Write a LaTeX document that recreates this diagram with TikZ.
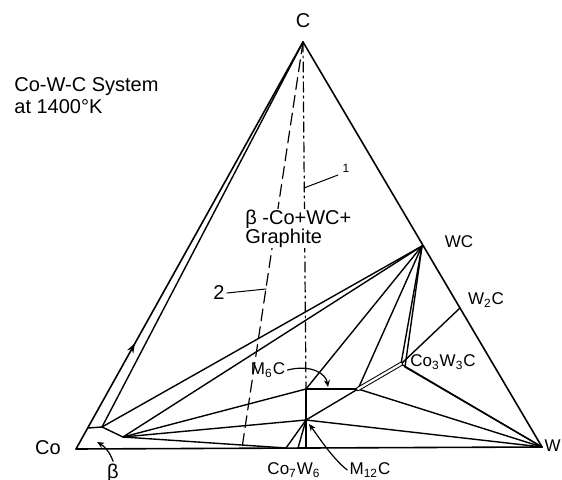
\documentclass[tikz,border=0pt]{standalone}
\usepackage{fontspec}
\setmainfont{Liberation Sans}
\usetikzlibrary{arrows.meta,decorations.markings}

\begin{document}
\begin{tikzpicture}[x=0.5pt, y=-0.5pt, >=Stealth, line join=round, line cap=round,
  edge/.style={line width=0.8pt},
  tie/.style={line width=0.7pt},
  twin/.style={line width=0.5pt, double, double distance=1.1pt},
  isopleth/.style={line width=0.6pt, dash pattern=on 6pt off 3pt},
  isoplethb/.style={line width=0.6pt, dash pattern=on 5pt off 2pt on 1pt off 2pt},
  lbl/.style={font=\fontsize{10}{12}\selectfont, inner sep=1pt},
  phase/.style={font=\fontsize{8.5}{10}\selectfont, inner sep=1pt},
  callout/.style={line width=0.6pt, -{Stealth[length=3.5pt, width=3pt]}}]
  \useasboundingbox (0,0) rectangle (562,480);

  % Corners of the triangle
  \coordinate (Co) at (76,449);
  \coordinate (W) at (542,447);
  \coordinate (C) at (303,42);

  % Phase points
  \coordinate (WC) at (422,246);
  \coordinate (W2C) at (460,308);
  \coordinate (E) at (401,364);
  \coordinate (Ea) at (405,367);
  \coordinate (F) at (358,389);
  \coordinate (M6) at (306,389);
  \coordinate (M12) at (306,420);
  \coordinate (P1) at (88,428);
  \coordinate (P2) at (102,427);
  \coordinate (P3) at (123,437);
  \coordinate (muA) at (286,448);
  \coordinate (muB) at (298,448);
  \coordinate (muC) at (306,448);
  \coordinate (D2) at (242,448);

  % Triangle
  \draw[edge] (Co) -- (W) -- (C);
  \draw[edge, postaction={decorate},
    decoration={markings, mark=at position 0.26 with {\arrow{Stealth[length=5pt, width=3.5pt]}}}]
    (Co) -- (C);

  % beta-Co corner
  \draw[tie] (P1) -- (P2) -- (P3);
  \draw[tie] (P2) -- (C);

  % Tie lines to WC
  \draw[tie] (P2) -- (WC);
  \draw[tie] (P3) -- (WC);
  \draw[tie] (M6) -- (WC);
  \draw[tie] (F) -- (WC);
  \draw[tie] (E) -- (WC);
  \draw[tie] (Ea) -- (WC);

  % Tie lines to W
  \draw[tie] (M12) -- (W);
  \draw[tie] (F) -- (W);
  \draw[tie] (E) -- (W);
  \draw[tie] (Ea) -- (W);
  \draw[tie] (E) -- (W2C);

  % Carbide region
  \draw[tie] (P3) -- (M6);
  \draw[tie] (P3) -- (M12);
  \draw[tie] (P3) -- (muA);
  \draw[tie] (M12) -- (muA);
  \draw[tie] (M12) -- (muB);
  \draw[tie] (M6) -- (M12) -- (muC);
  \draw[tie] (M6) -- (F);
  \draw[tie] (M12) -- (F);
  \draw[twin] (F) -- (E);

  % Sections 1 and 2
  \draw[isoplethb] (C) -- (M6);
  \draw[isopleth] (C) -- (D2);
  \coordinate (on1) at (304,188);
  \coordinate (on2) at (266,289);
  \node[phase, font=\fontsize{6}{7}\selectfont] (lab1) at (346,168) {1};
  \draw[line width=0.5pt] (on1) -- (338,175);
  \node[lbl] (lab2) at (219,293) {2};
  \draw[line width=0.5pt] (lab2.east) -- (on2);

  % Labels
  \node[lbl, anchor=west] (title) at (12,87) {Co-W-C System};
  \node[lbl, anchor=west] (temp) at (12,107) {at 1400°K};
  \node[lbl, anchor=west, fill=white, inner sep=0.5pt] (mix) at (244,219) {β -Co+WC+};
  \node[lbl, anchor=west, fill=white, inner sep=0.5pt] (graph) at (244,238) {Graphite};
  \node[lbl] (labC) at (303,21) {C};
  \node[lbl] (labCo) at (48,448) {Co};
  \node[phase, anchor=east, inner sep=0pt] (labW) at (561,446) {W};
  \node[phase] (labWC) at (459,242) {WC};
  \node[phase] (labW2C) at (486,300) {W\textsubscript{2}C};
  \node[phase] (labE) at (443,362) {Co\textsubscript{3}W\textsubscript{3}C};
  \node[phase] (labM6) at (268,370) {M\textsubscript{6}C};
  \node[phase] (labM12) at (370,470) {M\textsubscript{12}C};
  \node[phase] (labmu) at (294,470) {Co\textsubscript{7}W\textsubscript{6}};
  \node[lbl] (labb) at (113,473) {β};

  % Pointers
  \draw[callout] (labM6.east) .. controls (312,364) and (326,374) .. (328,387);
  \draw[callout] (labM12.west) .. controls (332,458) and (318,436) .. (309,424);
  \draw[callout] (labb.north) .. controls (110,452) and (104,446) .. (97,442);
\end{tikzpicture}
\end{document}
